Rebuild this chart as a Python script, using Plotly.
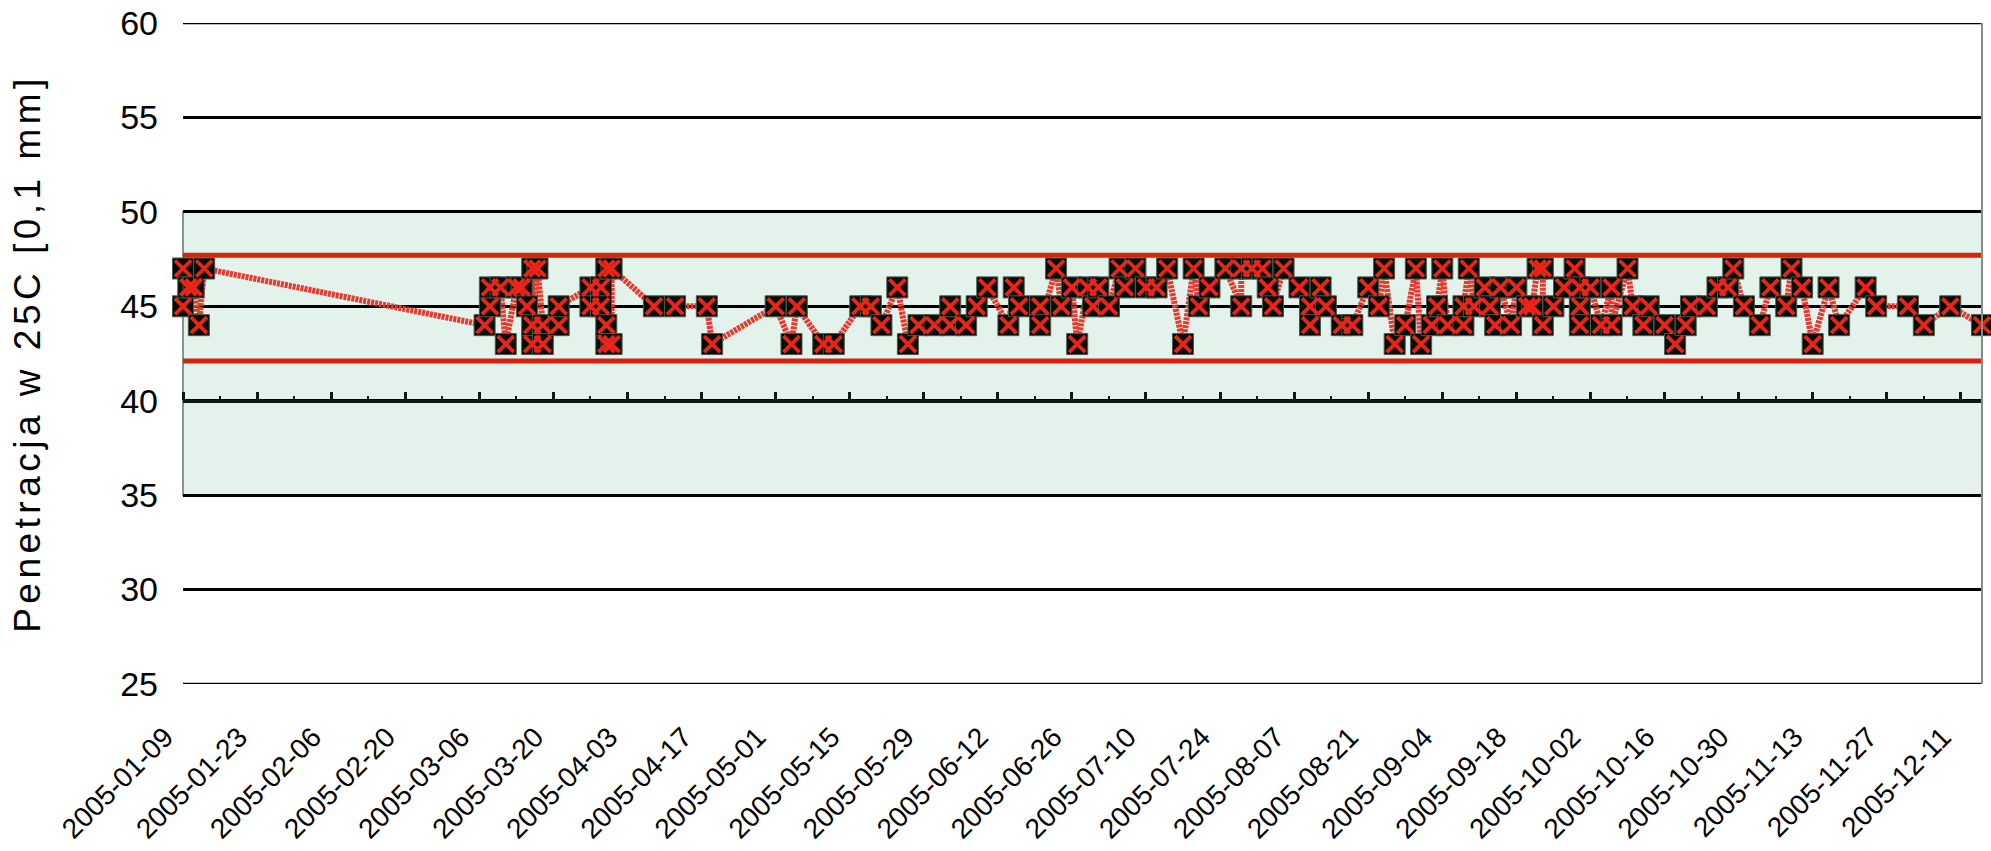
import plotly.graph_objects as go

# ---- data ----
dates = [
    "2005-01-09", "2005-01-09", "2005-01-10", "2005-01-11", "2005-01-12", "2005-01-13",
    "2005-03-07", "2005-03-08", "2005-03-08", "2005-03-10", "2005-03-11", "2005-03-13",
    "2005-03-14", "2005-03-15", "2005-03-16", "2005-03-16", "2005-03-16", "2005-03-17",
    "2005-03-18", "2005-03-18", "2005-03-21", "2005-03-21", "2005-03-27", "2005-03-27",
    "2005-03-29", "2005-03-29", "2005-03-30", "2005-03-30", "2005-03-30", "2005-03-31",
    "2005-03-31",
    "2005-04-08", "2005-04-12", "2005-04-18", "2005-04-19", "2005-05-01", "2005-05-04",
    "2005-05-05", "2005-05-10", "2005-05-12", "2005-05-17", "2005-05-19", "2005-05-21",
    "2005-05-24", "2005-05-26", "2005-05-28", "2005-05-31", "2005-06-03", "2005-06-03",
    "2005-06-06", "2005-06-08", "2005-06-10", "2005-06-14", "2005-06-15", "2005-06-16",
    "2005-06-20", "2005-06-20", "2005-06-23", "2005-06-24", "2005-06-26", "2005-06-27",
    "2005-06-29", "2005-06-30",
    "2005-07-01", "2005-07-03", "2005-07-05", "2005-07-06", "2005-07-08", "2005-07-10",
    "2005-07-12", "2005-07-14", "2005-07-17", "2005-07-19", "2005-07-20", "2005-07-22",
    "2005-07-25", "2005-07-28", "2005-07-28", "2005-07-30", "2005-08-01", "2005-08-02",
    "2005-08-03", "2005-08-05", "2005-08-08", "2005-08-10", "2005-08-10", "2005-08-12",
    "2005-08-13", "2005-08-16", "2005-08-18", "2005-08-21", "2005-08-23", "2005-08-24",
    "2005-08-26", "2005-08-28", "2005-08-30", "2005-08-31", "2005-09-02", "2005-09-03",
    "2005-09-04", "2005-09-05", "2005-09-08", "2005-09-08", "2005-09-09", "2005-09-10",
    "2005-09-12", "2005-09-13", "2005-09-14", "2005-09-15", "2005-09-17", "2005-09-18",
    "2005-09-20", "2005-09-21", "2005-09-22", "2005-09-23", "2005-09-23", "2005-09-25",
    "2005-09-27", "2005-09-29", "2005-09-30", "2005-09-30", "2005-09-30", "2005-10-02",
    "2005-10-04", "2005-10-06", "2005-10-06", "2005-10-09", "2005-10-10", "2005-10-12",
    "2005-10-13", "2005-10-16", "2005-10-18", "2005-10-20", "2005-10-21", "2005-10-24",
    "2005-10-26", "2005-10-28", "2005-10-29", "2005-10-31", "2005-11-03", "2005-11-05",
    "2005-11-08", "2005-11-09", "2005-11-11", "2005-11-13", "2005-11-16", "2005-11-18",
    "2005-11-23", "2005-11-25", "2005-12-01", "2005-12-04", "2005-12-09", "2005-12-15",
]
values = [
    45, 47, 46, 46, 44, 47,
    44, 45, 46, 46, 43, 46,
    46, 45, 47, 43, 44, 47,
    44, 43, 44, 45, 46, 45,
    46, 45, 43, 44, 47, 43,
    47,
    45, 45, 45, 43, 45, 43,
    45, 43, 43, 45, 45, 44,
    46, 43, 44, 44, 44, 45,
    44, 45, 46, 44, 46, 45,
    45, 44, 47, 45, 46, 43,
    46, 45,
    46, 45, 47, 46, 47, 46,
    46, 47, 43, 47, 45, 46,
    47, 45, 47, 47, 47, 46,
    45, 47, 46, 45, 44, 46,
    45, 44, 44, 46, 45, 47,
    43, 44, 47, 43, 44, 45,
    47, 44, 44, 45, 47, 45,
    46, 45, 44, 46, 44, 46,
    45, 45, 47, 47, 44, 45,
    46, 47, 45, 44, 46, 46,
    44, 46, 44, 47, 45, 44,
    45, 44, 43, 44, 45, 45,
    46, 46, 47, 45, 44, 46,
    45, 47, 46, 43, 46, 44,
    46, 45, 45, 44, 45, 44,
]
limit_dates = ["2005-01-09", "2005-12-15"]
upper_limit = [47.7, 47.7]
lower_limit = [42.1, 42.1]
y_title = "Penetracja w 25C [0,1 mm]"

X_START = "2005-01-09"
X_END = "2005-12-15"
DAY_MS = 86400000
FONT = "Liberation Sans, Arial, sans-serif"
AX_COLOR = "#0b1a12"

fig = go.Figure()

# limit lines (drawn on the overlay axis that sits at y=40)
for lim in (upper_limit, lower_limit):
    fig.add_trace(go.Scatter(
        x=limit_dates, y=lim, mode="lines", xaxis="x2", yaxis="y",
        line=dict(color="#D8220F", width=5), hoverinfo="skip", showlegend=False))

# connecting line
fig.add_trace(go.Scatter(
    x=dates, y=values, mode="lines",
    line=dict(color="#E43A30", width=6, dash="3px,1px"),
    hoverinfo="skip", showlegend=False))

# black square markers
fig.add_trace(go.Scatter(
    x=dates, y=values, mode="markers", cliponaxis=False,
    marker=dict(symbol="square", size=21, color="#020e06",
                line=dict(color="#4a5a50", width=1)),
    hoverinfo="skip", showlegend=False))

# red crosses
fig.add_trace(go.Scatter(
    x=dates, y=values, mode="markers", cliponaxis=False,
    marker=dict(symbol="x-thin", size=16, line=dict(color="#EC2418", width=3.8)),
    hoverinfo="skip", showlegend=False))

fig.update_layout(
    width=1991, height=851,
    margin=dict(l=183, r=9, t=23, b=167, autoexpand=False),
    paper_bgcolor="white", plot_bgcolor="white",
    font=dict(family=FONT, color="black"),
    showlegend=False,
    xaxis=dict(
        type="date", range=[X_START, X_END], automargin=False,
        tickmode="linear", tick0=X_START, dtick=14 * DAY_MS,
        tickformat="%Y-%m-%d", tickangle=-45,
        tickfont=dict(size=28, family=FONT, color="black"),
        showgrid=False, showline=False, zeroline=False, ticks="",
        ticklabelstandoff=30, ticklabelshift=-18,
    ),
    xaxis2=dict(
        type="date", range=[X_START, X_END], overlaying="x", automargin=False,
        anchor="free", position=15 / 35, side="top",
        tickmode="linear", tick0=X_START, dtick=14 * DAY_MS,
        ticks="outside", ticklen=8, tickwidth=2.5, tickcolor=AX_COLOR,
        showline=True, linecolor=AX_COLOR, linewidth=3,
        showticklabels=False, showgrid=False, zeroline=False,
        minor=dict(ticks="outside", ticklen=4, tickwidth=2, tickcolor=AX_COLOR,
                   tick0=X_START, dtick=7 * DAY_MS, showgrid=False),
    ),
    yaxis=dict(
        range=[25, 60], tickmode="linear", tick0=25, dtick=5, automargin=False,
        showgrid=True, gridcolor="black", gridwidth=2.5,
        zeroline=False, showline=False, ticks="",
        tickfont=dict(size=34, family=FONT, color="black"),
        ticklabelstandoff=24, ticklabeloverflow="allow",
        title=dict(text='<span style="letter-spacing:4.5px">' + y_title + '</span>',
                   font=dict(size=37, family=FONT, color="black"),
                   standoff=68),
    ),
    shapes=[
        dict(type="rect", xref="paper", x0=0, x1=1, yref="y", y0=35, y1=50,
             fillcolor="#E3F2EA", line=dict(color="#66766c", width=1.5),
             layer="below"),
        dict(type="line", xref="paper", x0=0, x1=1, yref="y", y0=60, y1=60,
             line=dict(color="black", width=2.5), layer="below"),
        dict(type="line", xref="paper", x0=0, x1=1, yref="y", y0=25, y1=25,
             line=dict(color="black", width=2.5), layer="below"),
        dict(type="line", xref="paper", x0=1, x1=1, yref="paper", y0=0, y1=1,
             line=dict(color="#8a8a8a", width=2)),
    ],
)

# remove the browser's default 8px page margin so the figure fills the window exactly
fig.write_html(
    "out.html",
    config={"displayModeBar": False},
    post_script="document.body.style.margin='0';document.documentElement.style.overflow='hidden';",
)
